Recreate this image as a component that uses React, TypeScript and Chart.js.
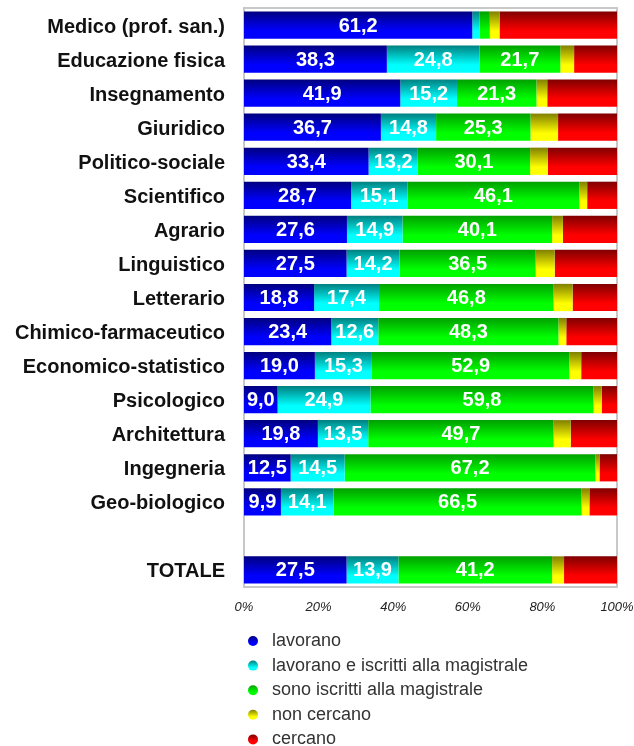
import React, { useEffect, useRef } from 'react';
import { Chart, registerables } from 'chart.js';
Chart.register(...registerables);

const categories = ['Medico (prof. san.)', 'Educazione fisica', 'Insegnamento', 'Giuridico', 'Politico-sociale', 'Scientifico', 'Agrario', 'Linguistico', 'Letterario', 'Chimico-farmaceutico', 'Economico-statistico', 'Psicologico', 'Architettura', 'Ingegneria', 'Geo-biologico', '', 'TOTALE'];
const lavorano = [61.2, 38.3, 41.9, 36.7, 33.4, 28.7, 27.6, 27.5, 18.8, 23.4, 19.0, 9.0, 19.8, 12.5, 9.9, null, 27.5];
const lavoranoIscritti = [2.0, 24.8, 15.2, 14.8, 13.2, 15.1, 14.9, 14.2, 17.4, 12.6, 15.3, 24.9, 13.5, 14.5, 14.1, null, 13.9];
const iscritti = [2.7, 21.7, 21.3, 25.3, 30.1, 46.1, 40.1, 36.5, 46.8, 48.3, 52.9, 59.8, 49.7, 67.2, 66.5, null, 41.2];
const nonCercano = [2.6, 3.7, 2.9, 7.4, 4.8, 2.1, 2.9, 5.1, 5.1, 2.1, 3.2, 2.2, 4.6, 1.1, 2.1, null, 3.2];
const cercano = [31.5, 11.5, 18.7, 15.8, 18.5, 8.0, 14.5, 16.7, 11.9, 13.6, 9.6, 4.1, 12.4, 4.7, 7.4, null, 14.2];
const seriesLabels = ['lavorano', 'lavorano e iscritti alla magistrale', 'sono iscritti alla magistrale', 'non cercano', 'cercano'];
const xTicks = [0, 20, 40, 60, 80, 100];

const darkColors = ['#000080', '#008080', '#00a000', '#808000', '#800000'];
const brightColors = ['#0000ff', '#00ffff', '#00ff00', '#ffff00', '#ff0000'];
const BAR_PCT = 0.8;

function gradientFill(i: number) {
  return (ctx: any) => {
    const chart = ctx.chart;
    const y = chart.scales && chart.scales.y;
    if (!chart.chartArea || !y || ctx.type !== 'data') return brightColors[i];
    const c = y.getPixelForValue(ctx.dataIndex);
    const pitch = Math.abs(y.getPixelForValue(1) - y.getPixelForValue(0));
    const h = pitch * BAR_PCT;
    const g = chart.ctx.createLinearGradient(0, c - h / 2, 0, c + h / 2);
    g.addColorStop(0, darkColors[i]);
    g.addColorStop(0.72, brightColors[i]);
    g.addColorStop(1, brightColors[i]);
    return g;
  };
}

const frameAndLabels = {
  id: 'frameAndLabels',
  beforeDatasetsDraw(chart: any) {
    const { ctx, chartArea: a } = chart;
    ctx.save();
    ctx.strokeStyle = '#c8c8c8';
    ctx.lineWidth = 2;
    ctx.strokeRect(a.left, a.top, a.right - a.left, a.bottom - a.top);
    ctx.restore();
  },
  afterDatasetsDraw(chart: any) {
    const { ctx } = chart;
    ctx.save();
    ctx.font = 'bold 20px "Liberation Sans", Arial, sans-serif';
    ctx.fillStyle = '#ffffff';
    ctx.textAlign = 'center';
    ctx.textBaseline = 'middle';
    for (let d = 0; d < 3; d++) {
      const meta = chart.getDatasetMeta(d);
      const data = chart.data.datasets[d].data;
      meta.data.forEach((el: any, i: number) => {
        const v = data[i];
        if (v == null || v < 5) return;
        const p = el.getCenterPoint();
        ctx.fillText(v.toFixed(1).replace('.', ','), p.x, p.y + 1);
      });
    }
    ctx.restore();
  },
  afterDraw(chart: any) {
    const { ctx, chartArea: a } = chart;
    ctx.save();
    ctx.font = '18px "Liberation Sans", Arial, sans-serif';
    ctx.textBaseline = 'middle';
    ctx.textAlign = 'left';
    chart.data.datasets.forEach((ds: any, i: number) => {
      const cy = a.bottom + 54 + i * 24.6;
      const cx = a.left + 9;
      const g = ctx.createLinearGradient(0, cy - 5, 0, cy + 5);
      g.addColorStop(0, darkColors[i]);
      g.addColorStop(0.7, brightColors[i]);
      g.addColorStop(1, brightColors[i]);
      ctx.fillStyle = g;
      ctx.beginPath();
      ctx.arc(cx, cy, 5, 0, Math.PI * 2);
      ctx.fill();
      ctx.fillStyle = '#333333';
      ctx.fillText(ds.label, a.left + 28, cy);
    });
    ctx.restore();
  },
};

export default function App() {
  const ref = useRef<HTMLCanvasElement>(null);
  useEffect(() => {
    if (!ref.current) return;
    const series = [lavorano, lavoranoIscritti, iscritti, nonCercano, cercano];
    const chart = new Chart(ref.current, {
      type: 'bar',
      data: {
        labels: categories,
        datasets: series.map((s, i) => ({
          label: seriesLabels[i],
          data: s,
          backgroundColor: gradientFill(i),
          borderWidth: 0,
          barPercentage: BAR_PCT,
          categoryPercentage: 1.0,
        })),
      },
      options: {
        indexAxis: 'y',
        responsive: false,
        animation: false,
        layout: { padding: { left: 0, top: 8, right: 17, bottom: 119 } },
        plugins: { legend: { display: false }, tooltip: { enabled: false } },
        scales: {
          x: {
            stacked: true,
            min: 0,
            max: 100,
            afterBuildTicks: (scale: any) => { scale.ticks = xTicks.map((v) => ({ value: v })); },
            afterFit: (scale: any) => {
              scale.height = 40;
              scale.paddingLeft = 0;
              scale.paddingRight = 0;
            },
            grid: { display: false },
            border: { display: false },
            ticks: {
              padding: 5,
              maxRotation: 0,
              color: '#222222',
              font: { family: '"Liberation Sans", Arial, sans-serif', size: 13, style: 'italic' },
              callback: (v: any) => v + '%',
            },
          },
          y: {
            stacked: true,
            afterFit: (scale: any) => {
              scale.width = 244;
              scale.paddingTop = 0;
              scale.paddingBottom = 0;
            },
            grid: { display: false },
            border: { display: false },
            ticks: {
              padding: 11,
              labelOffset: 2,
              color: '#111111',
              autoSkip: false,
              font: { family: '"Liberation Sans", Arial, sans-serif', size: 20, weight: 'bold' },
            },
          },
        },
      },
      plugins: [frameAndLabels],
    });
    return () => chart.destroy();
  }, []);
  return (
    <div style={{ position: 'fixed', left: 0, top: 0, width: 634, height: 746 }}>
      <canvas ref={ref} width={634} height={746} style={{ display: 'block', width: 634, height: 746 }} />
    </div>
  );
}
